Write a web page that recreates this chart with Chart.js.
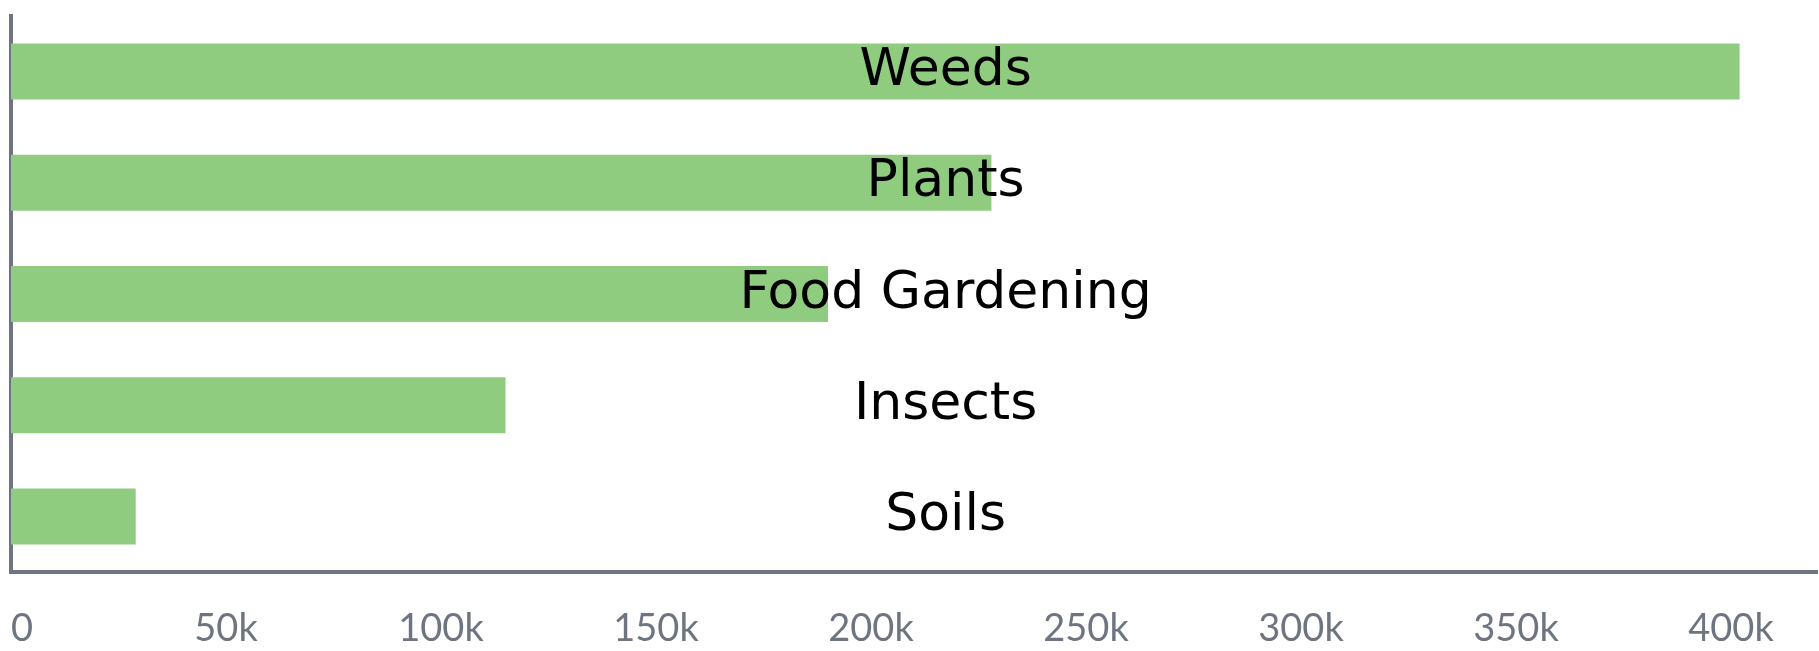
<!DOCTYPE html>
<html>
<head>
<meta charset="utf-8">
<script src="https://cdn.jsdelivr.net/npm/chart.js@4"></script>
<style>
  html, body { margin: 0; padding: 0; background: #fff; }
  #wrap { width: 1819px; height: 651px; position: relative; }
</style>
</head>
<body>
<div id="wrap"><canvas id="myChart"></canvas></div>
<script>
// data
const categories = ['Weeds', 'Plants', 'Food Gardening', 'Insects', 'Soils'];
const counts = [402000, 228000, 190000, 115000, 29000];
const tickValues = [0, 50000, 100000, 150000, 200000, 250000, 300000, 350000, 400000];
const xMax = 420000;

const axisGray = '#6e7580';

// category names written across the bars, centred on each bar
const barLabels = {
    id: 'barLabels',
    afterDatasetsDraw(chart) {
        const { ctx, chartArea, scales } = chart;
        const cx = chartArea.left + (chartArea.right - chartArea.left) * 0.5175;
        ctx.save();
        ctx.font = '52px "DejaVu Sans"';
        ctx.fillStyle = '#000';
        ctx.textAlign = 'center';
        ctx.textBaseline = 'middle';
        categories.forEach((name, i) => {
            ctx.fillText(name, cx, scales.y.getPixelForValue(i));
        });
        ctx.restore();
    }
};

const ctx = document.getElementById('myChart');

new Chart(ctx, {
    type: 'bar',
    data: {
        labels: categories,
        datasets: [{
            data: counts,
            backgroundColor: '#8fcc80',
            borderWidth: 0,
            categoryPercentage: 1,
            barPercentage: 0.504
        }]
    },
    options: {
        indexAxis: 'y',
        responsive: true,
        maintainAspectRatio: false,
        animation: false,
        layout: { padding: { left: 11, right: 2, top: 16, bottom: 0 } },
        plugins: {
            legend: { display: false },
            tooltip: { enabled: false }
        },
        scales: {
            x: {
                min: 0,
                max: xMax,
                afterBuildTicks: (scale) => {
                    scale.ticks = tickValues.concat([xMax]).map(v => ({ value: v }));
                },
                afterFit: (scale) => {
                    // the tick padding should only push labels down, not in from the sides
                    scale.paddingLeft = 0;
                    scale.paddingRight = 0;
                    scale.paddingTop = 0;
                    scale.paddingBottom = 0;
                    scale.height = 79;
                },
                grid: { display: false, drawTicks: false },
                border: { display: true, color: axisGray, width: 4 },
                ticks: {
                    align: 'inner',
                    autoSkip: false,
                    maxRotation: 0,
                    padding: 34,
                    color: axisGray,
                    font: { family: 'Lato', size: 38 },
                    callback: (v) => tickValues.includes(v) ? (v === 0 ? '0' : (v / 1000) + 'k') : ''
                }
            },
            y: {
                z: 1,
                afterFit: (scale) => {
                    scale.width = 0;
                    scale.paddingTop = 0;
                    scale.paddingBottom = 0;
                },
                grid: { display: false, drawTicks: false },
                border: { display: true, color: axisGray, width: 4 },
                ticks: { display: false }
            }
        }
    },
    plugins: [barLabels]
});
</script>
</body>
</html>
